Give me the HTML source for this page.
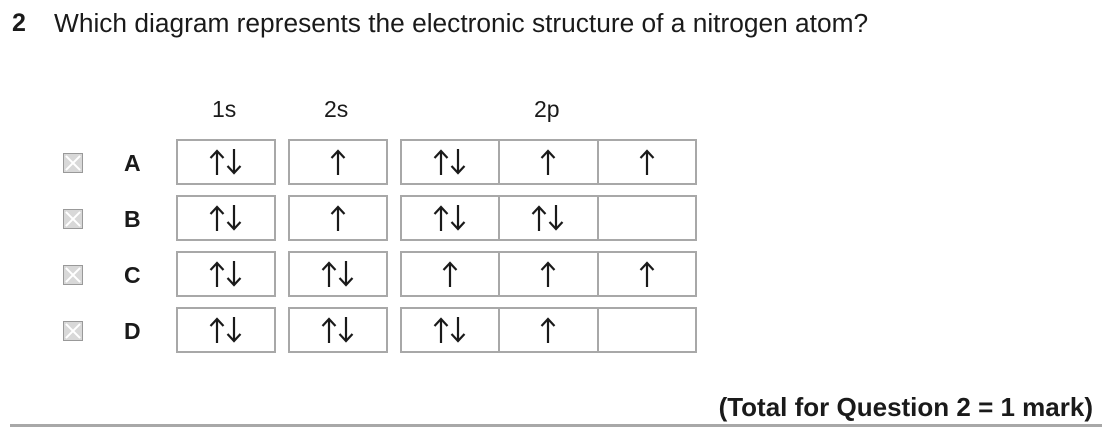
<!DOCTYPE html>
<html><head><meta charset="utf-8"><style>
body{margin:0;width:1102px;height:428px;background:#fff;position:relative;overflow:hidden;font-family:"Liberation Sans","DejaVu Sans",sans-serif;color:#1a1a1a}
.a{position:absolute;white-space:nowrap}
.box{position:absolute;border:2px solid #a8a8a8;box-sizing:border-box;height:46px;display:flex;align-items:center;justify-content:center}
.grp{position:absolute;border:2px solid #a8a8a8;box-sizing:border-box;height:46px;display:flex}
.grp div{flex:1;display:flex;align-items:center;justify-content:center}
.grp div+div{border-left:2px solid #a8a8a8}
.cb{position:absolute;left:63px;width:20px;height:20px;background:#d8d8d8;border:1px solid #999;box-sizing:border-box}
.cb:before,.cb:after{content:"";position:absolute;left:8px;top:-1px;width:2px;height:20px;background:#fff;transform:rotate(45deg)}
.cb:after{transform:rotate(-45deg)}
.L{position:absolute;left:124px;font-weight:bold;font-size:23px}
svg{display:block}
</style></head><body>
<svg width="0" height="0" style="position:absolute">
<defs>
<g id="u"><line x1="8" y1="3" x2="8" y2="27" stroke="#1a1a1a" stroke-width="2.2"/><polyline points="1.5,10 8,3 14.5,10" fill="none" stroke="#1a1a1a" stroke-width="2.2"/></g>
<g id="d"><line x1="8" y1="1" x2="8" y2="25" stroke="#1a1a1a" stroke-width="2.2"/><polyline points="1.5,18 8,25 14.5,18" fill="none" stroke="#1a1a1a" stroke-width="2.2"/></g>
</defs></svg>

<div class="a" style="left:12px;top:9px;font-size:25px;font-weight:bold">2</div>
<div class="a" style="left:54px;top:8px;font-size:26.3px">Which diagram represents the electronic structure of a nitrogen atom?</div>
<div class="a" style="left:212px;top:96px;font-size:23px">1s</div>
<div class="a" style="left:324px;top:96px;font-size:23px">2s</div>
<div class="a" style="left:534px;top:96px;font-size:23px">2p</div>

<div class="cb" style="top:153px"></div><div class="L" style="top:150px">A</div>
<div class="box" style="left:176px;top:139px;width:100px"><svg width="34" height="28"><use href="#u"/><use href="#d" x="17"/></svg></div>
<div class="box" style="left:288px;top:139px;width:100px"><svg width="16" height="28"><use href="#u"/></svg></div>
<div class="grp" style="left:400px;top:139px;width:297px"><div><svg width="34" height="28"><use href="#u"/><use href="#d" x="17"/></svg></div><div><svg width="16" height="28"><use href="#u"/></svg></div><div><svg width="16" height="28"><use href="#u"/></svg></div></div>

<div class="cb" style="top:209px"></div><div class="L" style="top:206px">B</div>
<div class="box" style="left:176px;top:195px;width:100px"><svg width="34" height="28"><use href="#u"/><use href="#d" x="17"/></svg></div>
<div class="box" style="left:288px;top:195px;width:100px"><svg width="16" height="28"><use href="#u"/></svg></div>
<div class="grp" style="left:400px;top:195px;width:297px"><div><svg width="34" height="28"><use href="#u"/><use href="#d" x="17"/></svg></div><div><svg width="34" height="28"><use href="#u"/><use href="#d" x="17"/></svg></div><div></div></div>

<div class="cb" style="top:265px"></div><div class="L" style="top:262px">C</div>
<div class="box" style="left:176px;top:251px;width:100px"><svg width="34" height="28"><use href="#u"/><use href="#d" x="17"/></svg></div>
<div class="box" style="left:288px;top:251px;width:100px"><svg width="34" height="28"><use href="#u"/><use href="#d" x="17"/></svg></div>
<div class="grp" style="left:400px;top:251px;width:297px"><div><svg width="16" height="28"><use href="#u"/></svg></div><div><svg width="16" height="28"><use href="#u"/></svg></div><div><svg width="16" height="28"><use href="#u"/></svg></div></div>

<div class="cb" style="top:321px"></div><div class="L" style="top:318px">D</div>
<div class="box" style="left:176px;top:307px;width:100px"><svg width="34" height="28"><use href="#u"/><use href="#d" x="17"/></svg></div>
<div class="box" style="left:288px;top:307px;width:100px"><svg width="34" height="28"><use href="#u"/><use href="#d" x="17"/></svg></div>
<div class="grp" style="left:400px;top:307px;width:297px"><div><svg width="34" height="28"><use href="#u"/><use href="#d" x="17"/></svg></div><div><svg width="16" height="28"><use href="#u"/></svg></div><div></div></div>

<div class="a" style="right:9px;top:392px;font-size:26px;font-weight:bold">(Total for Question 2 = 1 mark)</div>
<div class="a" style="left:10px;top:424px;width:1092px;height:3px;background:#a8a8a8"></div>
</body></html>
